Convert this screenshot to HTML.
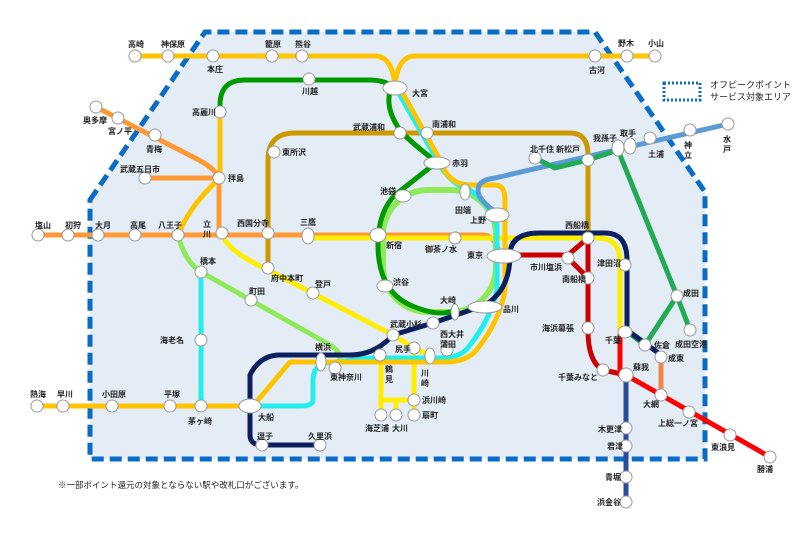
<!DOCTYPE html>
<html><head><meta charset="utf-8"><style>
html,body{margin:0;padding:0;background:#fff;width:800px;height:538px;overflow:hidden}
svg text{font-family:"Liberation Sans","Noto Sans CJK JP",sans-serif;font-size:8px;font-weight:bold;fill:#222}
</style></head><body>
<svg width="800" height="538" viewBox="0 0 800 538" xmlns="http://www.w3.org/2000/svg">
<polygon points="90,200 205,32 595,32 705,192 705,459 90,459" fill="#e4edf6" stroke="#0a6cc4" stroke-width="5" stroke-dasharray="12,6"/>
<rect x="664" y="83" width="36" height="17" fill="none" stroke="#0a6cc4" stroke-width="3" stroke-dasharray="2,2"/>
<text x="710" y="88" style="font-weight:normal;font-size:9px">オフピークポイント</text>
<text x="710" y="100" style="font-weight:normal;font-size:9px">サービス対象エリア</text>
<g fill="none" stroke-linecap="round" stroke-linejoin="round" stroke-width="5">
<path d="M135,56 H375 Q392,56 395,85 Q398,56 415,56 H655" stroke="#ffc400"/>
<path d="M395,88 Q385,80 370,80 H245 Q220,80 220,105" stroke="#009a00"/>
<path d="M220,112 V178 Q190,205 178,235" stroke="#ffc400"/>
<path d="M96,107 L195,158 Q215,168 219,178 V233" stroke="#ff9933"/>
<path d="M145,178 H219" stroke="#ff9933"/>
<path d="M38,235 H483 Q495,235 500,255" stroke="#ff9933"/>
<path d="M308,238 H598 Q620,238 620,262 V330" stroke="#ffee00"/>
<path d="M222,233 Q225,250 268,270 L393,335 L414,348 L430,355" stroke="#ffee00"/>
<path d="M414,345 V400 H381 V355 M381,380 V415 M396,400 V415 M414,400 V415" stroke="#ffee00"/>
<path d="M268,268 V160 Q268,133 295,133 H570 Q588,133 588,155 V238" stroke="#cc9900"/>
<path d="M178,235 Q185,262 201,272 L330,345 Q347,355 335,368" stroke="#8fea5a"/>
<path d="M201,272 V406" stroke="#22eeee"/>
<rect x="383" y="190" width="113" height="122" rx="45" stroke="#8fea5a" stroke-width="6"/>
<path d="M390,92 Q385,110 402,133 Q420,150 437,162 L395,195 Q378,212 378,245 Q378,290 410,305 Q440,318 455,310" stroke="#009a00"/>
<path d="M397,90 L437,160 Q450,185 470,190 Q490,205 497,225 V290 Q490,320 470,345 Q462,358 440,358 H370 L335,362 Q313,362 313,380 V400 Q313,406 300,406 H250" stroke="#22eeee"/>
<path d="M401,90 L440,160 Q448,185 470,185 H495 Q505,185 505,200 V290 Q500,320 478,348 Q468,362 445,362 H290 L253,406 H37" stroke="#ffc400"/>
<path d="M497,213 Q478,200 478,190 Q478,180 495,178 L728,124" stroke="#5b9bd5"/>
<path d="M535,158 L555,168 L588,160 L630,146 M618,150 L677,296 L690,330 M677,296 L645,345 L625,330" stroke="#22aa55"/>
<path d="M250,406 V435 Q250,445 262,445 H320 M250,406 V375 Q260,355 280,355 H350 Q375,355 393,335 L433,323 L485,305 Q510,290 510,255 Q510,233 540,233 H605 Q627,233 627,260 V330 L661,355" stroke="#0c1f5e"/>
<path d="M503,255 H568 L588,238 V330 Q588,362 603,370 L626,375 M568,258 L588,278" stroke="#cc0000"/>
<path d="M626,375 L770,457 M620,335 V375" stroke="#ff0000"/>
<path d="M626,375 V502" stroke="#2a4d9b"/>
<path d="M661,355 V395" stroke="#ee8844"/>
</g>
<g fill="#fff" stroke="#999" stroke-width="1">
<circle cx="135" cy="56" r="6"/><circle cx="168" cy="56" r="6"/><circle cx="213" cy="56" r="6"/><circle cx="272" cy="56" r="6"/><circle cx="302" cy="56" r="6"/>
<circle cx="595" cy="56" r="6"/><circle cx="627" cy="56" r="6"/><circle cx="655" cy="56" r="6"/>
<circle cx="309" cy="79" r="6"/><circle cx="220" cy="112" r="6"/><circle cx="96" cy="107" r="6"/><circle cx="118" cy="118" r="6"/><circle cx="155" cy="135" r="6"/>
<circle cx="145" cy="178" r="6"/><circle cx="219" cy="178" r="6"/><circle cx="274" cy="152" r="6"/><circle cx="400" cy="133" r="6"/><circle cx="427" cy="133" r="6"/>
<circle cx="38" cy="235" r="6"/><circle cx="68" cy="235" r="6"/><circle cx="98" cy="235" r="6"/><circle cx="135" cy="235" r="6"/><circle cx="178" cy="235" r="6"/><circle cx="222" cy="233" r="6"/><circle cx="268" cy="233" r="6"/>
<ellipse cx="308" cy="236" rx="6" ry="8"/><circle cx="455" cy="238" r="6"/><circle cx="268" cy="268" r="6"/><circle cx="313" cy="293" r="6"/><circle cx="251" cy="300" r="6"/><circle cx="201" cy="272" r="6"/><circle cx="201" cy="340" r="6"/>
<circle cx="37" cy="406" r="6"/><circle cx="63" cy="406" r="6"/><circle cx="112" cy="406" r="6"/><circle cx="170" cy="406" r="6"/><circle cx="201" cy="406" r="6"/>
<circle cx="262" cy="445" r="6"/><circle cx="320" cy="445" r="6"/><circle cx="335" cy="368" r="6"/><circle cx="393" cy="335" r="6"/><circle cx="433" cy="323" r="6"/>
<circle cx="380" cy="355" r="6"/><circle cx="414" cy="348" r="6"/><circle cx="447" cy="350" r="6"/>
<circle cx="381" cy="415" r="6"/><circle cx="396" cy="415" r="6"/><circle cx="414" cy="400" r="6"/><circle cx="414" cy="415" r="6"/>
<circle cx="535" cy="158" r="6"/><circle cx="588" cy="160" r="6"/><ellipse cx="618" cy="148" rx="6" ry="8"/><ellipse cx="630" cy="146" rx="6" ry="8"/><circle cx="650" cy="138" r="6"/><circle cx="690" cy="130" r="6"/><circle cx="728" cy="124" r="6"/>
<circle cx="588" cy="238" r="6"/><circle cx="568" cy="258" r="6"/><circle cx="588" cy="278" r="6"/><circle cx="625" cy="265" r="6"/><circle cx="588" cy="328" r="6"/><circle cx="603" cy="370" r="6"/>
<circle cx="677" cy="296" r="6"/><circle cx="690" cy="330" r="6"/><circle cx="645" cy="345" r="6"/><circle cx="661" cy="357" r="6"/><circle cx="661" cy="395" r="6"/><circle cx="689" cy="412" r="6"/><circle cx="730" cy="435" r="6"/><circle cx="770" cy="457" r="6"/>
<circle cx="626" cy="375" r="7"/><circle cx="626" cy="428" r="6"/><circle cx="626" cy="446" r="6"/><circle cx="626" cy="477" r="6"/><circle cx="626" cy="502" r="6"/>
<ellipse cx="395" cy="88" rx="12" ry="7"/><ellipse cx="437" cy="163" rx="13" ry="6"/><ellipse cx="465" cy="192" rx="5" ry="8"/><ellipse cx="497" cy="215" rx="12" ry="7"/>
<ellipse cx="378" cy="235" rx="8" ry="7"/><ellipse cx="504" cy="256" rx="17" ry="7"/><ellipse cx="385" cy="286" rx="8" ry="6"/><ellipse cx="455" cy="312" rx="4" ry="8"/><ellipse cx="485" cy="307" rx="17" ry="6"/>
<ellipse cx="403" cy="196" rx="8" ry="6"/><ellipse cx="321" cy="362" rx="5" ry="9"/><ellipse cx="250" cy="406" rx="11" ry="7"/><ellipse cx="430" cy="356" rx="5" ry="8"/><ellipse cx="625" cy="332" rx="7" ry="6"/>
</g>
<g>
<text x="128" y="47">高崎</text><text x="161" y="47">神保原</text><text x="207" y="72">本庄</text><text x="265" y="47">籠原</text><text x="295" y="47">熊谷</text>
<text x="618" y="46">野木</text><text x="648" y="46">小山</text><text x="589" y="73">古河</text><text x="302" y="94">川越</text><text x="412" y="96">大宮</text>
<text x="192" y="115">高麗川</text><text x="83" y="123">奥多摩</text><text x="108" y="134">宮ノ平</text><text x="146" y="152">青梅</text><text x="120" y="172">武蔵五日市</text><text x="228" y="181">拝島</text>
<text x="353" y="130">武蔵浦和</text><text x="432" y="127">南浦和</text><text x="282" y="155">東所沢</text><text x="452" y="166">赤羽</text>
<text x="530" y="152">北千住</text><text x="556" y="152">新松戸</text><text x="593" y="141">我孫子</text><text x="620" y="136">取手</text><text x="648" y="157">土浦</text><text x="684" y="148">神</text><text x="684" y="158">立</text><text x="723" y="142">水</text><text x="723" y="152">戸</text>
<text x="35" y="228">塩山</text><text x="65" y="228">初狩</text><text x="95" y="228">大月</text><text x="130" y="228">高尾</text><text x="158" y="228">八王子</text><text x="203" y="227">立</text><text x="203" y="237">川</text>
<text x="237" y="226">西国分寺</text><text x="300" y="225">三鷹</text><text x="380" y="194">池袋</text><text x="386" y="248">新宿</text><text x="425" y="252">御茶ノ水</text><text x="455" y="213">田端</text><text x="470" y="223">上野</text><text x="467" y="258">東京</text>
<text x="565" y="228">西船橋</text><text x="530" y="270">市川塩浜</text><text x="562" y="282">南船橋</text><text x="597" y="266">津田沼</text><text x="542" y="331">海浜幕張</text><text x="605" y="343">千葉</text><text x="558" y="380">千葉みなと</text><text x="633" y="370">蘇我</text>
<text x="683" y="296">成田</text><text x="675" y="347">成田空港</text><text x="654" y="348">佐倉</text><text x="668" y="361">成東</text><text x="643" y="407">大網</text><text x="658" y="426">上総一ノ宮</text><text x="711" y="450">東浪見</text><text x="757" y="472">勝浦</text>
<text x="598" y="432">木更津</text><text x="607" y="449">君津</text><text x="605" y="480">青堀</text><text x="597" y="505">浜金谷</text>
<text x="200" y="264">橋本</text><text x="271" y="281">府中本町</text><text x="249" y="294">町田</text><text x="315" y="287">登戸</text><text x="160" y="343">海老名</text>
<text x="440" y="303">大崎</text><text x="393" y="285">渋谷</text><text x="503" y="312">品川</text><text x="390" y="327">武蔵小杉</text><text x="440" y="337">西大井</text><text x="440" y="347">蒲田</text><text x="395" y="352">尻手</text>
<text x="315" y="350">横浜</text><text x="330" y="380">東神奈川</text><text x="385" y="372">鶴</text><text x="385" y="382">見</text><text x="421" y="376">川</text><text x="421" y="386">崎</text><text x="422" y="403">浜川崎</text><text x="422" y="418">扇町</text>
<text x="365" y="431">海芝浦</text><text x="392" y="431">大川</text><text x="30" y="397">熱海</text><text x="57" y="397">早川</text><text x="102" y="397">小田原</text><text x="164" y="397">平塚</text><text x="188" y="424">茅ヶ崎</text><text x="258" y="420">大船</text><text x="257" y="439">逗子</text><text x="308" y="439">久里浜</text>
<text x="58" y="488" style="font-weight:normal;font-size:8.5px">※一部ポイント還元の対象とならない駅や改札口がございます。</text>
</g>
</svg>
</body></html>
